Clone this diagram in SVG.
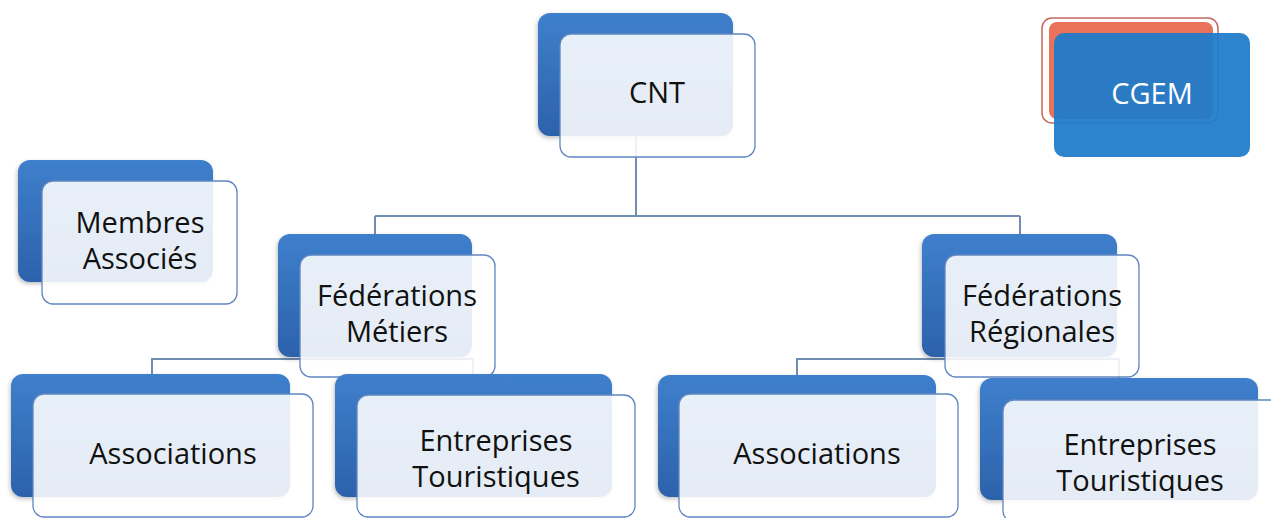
<svg xmlns="http://www.w3.org/2000/svg" width="1271" height="518" viewBox="0 0 1271 518">
<defs>
<linearGradient id="bg" x1="0" y1="0" x2="0" y2="1">
<stop offset="0" stop-color="#3f7fcc"/>
<stop offset="1" stop-color="#2c62ab"/>
</linearGradient>
<filter id="sh" x="-10%" y="-10%" width="120%" height="130%">
<feDropShadow dx="-1" dy="2" stdDeviation="2" flood-color="#000" flood-opacity="0.25"/>
</filter>
<style>
.back{fill:url(#bg);filter:url(#sh)}
.front{fill:#fff;fill-opacity:0.88;stroke:#5f86c0;stroke-width:1.3}
.t{font-family:"Open Sans","Noto Sans","Liberation Sans",sans-serif;font-size:29px;fill:#111;text-anchor:middle}
.w{fill:#fff}
.con{fill:none;stroke:#6f8fb2;stroke-width:2}
</style>
</defs>
<rect width="1271" height="518" fill="#fff"/>
<g id="connectors" class="con">
<path d="M636,136 V216 M375,216 H1020 M375,216 V234 M1020,216 V234"/>
<path d="M375,357 V359 M152,374 V359 H473 V374"/>
<path d="M1019,357 V359 M797,375 V359 H1119 V378"/>
</g>
<g id="cnt">
<rect class="back" x="538" y="13" width="195" height="123" rx="12"/>
<rect class="front" x="560" y="34" width="195" height="123" rx="11"/>
<text class="t" x="657" y="103">CNT</text>
</g>
<g id="cgem">
<rect x="1042" y="18" width="176" height="105" rx="10" fill="#fff" stroke="#c36a5c" stroke-width="1.5"/>
<rect x="1049" y="22" width="164" height="97" rx="8" fill="#e8735a"/>
<rect x="1054" y="33" width="196" height="124" rx="10" fill="#1f7bcb" fill-opacity="0.94"/>
<text class="t w" x="1152" y="104">CGEM</text>
</g>
<g id="membres">
<rect class="back" x="18" y="160" width="195" height="122" rx="12"/>
<rect class="front" x="42" y="181" width="195" height="123" rx="11"/>
<text class="t" x="140" y="233">Membres</text>
<text class="t" x="140" y="269">Associés</text>
</g>
<g id="fed-metiers">
<rect class="back" x="278" y="234" width="194" height="123" rx="12"/>
<rect class="front" x="300" y="255" width="195" height="122" rx="11"/>
<text class="t" x="397" y="306">Fédérations</text>
<text class="t" x="397" y="342">Métiers</text>
</g>
<g id="fed-regionales">
<rect class="back" x="922" y="234" width="195" height="123" rx="12"/>
<rect class="front" x="945" y="255" width="194" height="122" rx="11"/>
<text class="t" x="1042" y="306">Fédérations</text>
<text class="t" x="1042" y="342">Régionales</text>
</g>
<g id="assoc-left">
<rect class="back" x="11" y="374" width="279" height="123" rx="12"/>
<rect class="front" x="33" y="394" width="280" height="123" rx="11"/>
<text class="t" x="173" y="464">Associations</text>
</g>
<g id="entr-left">
<rect class="back" x="335" y="374" width="277" height="123" rx="12"/>
<rect class="front" x="357" y="395" width="278" height="122" rx="11"/>
<text class="t" x="496" y="451">Entreprises</text>
<text class="t" x="496" y="487">Touristiques</text>
</g>
<g id="assoc-right">
<rect class="back" x="658" y="375" width="278" height="122" rx="12"/>
<rect class="front" x="679" y="394" width="279" height="123" rx="11"/>
<text class="t" x="817" y="464">Associations</text>
</g>
<g id="entr-right">
<rect class="back" x="980" y="378" width="278" height="122" rx="12"/>
<rect class="front" x="1003" y="400" width="278" height="122" rx="11"/>
<text class="t" x="1140" y="455">Entreprises</text>
<text class="t" x="1140" y="491">Touristiques</text>
</g>
</svg>
